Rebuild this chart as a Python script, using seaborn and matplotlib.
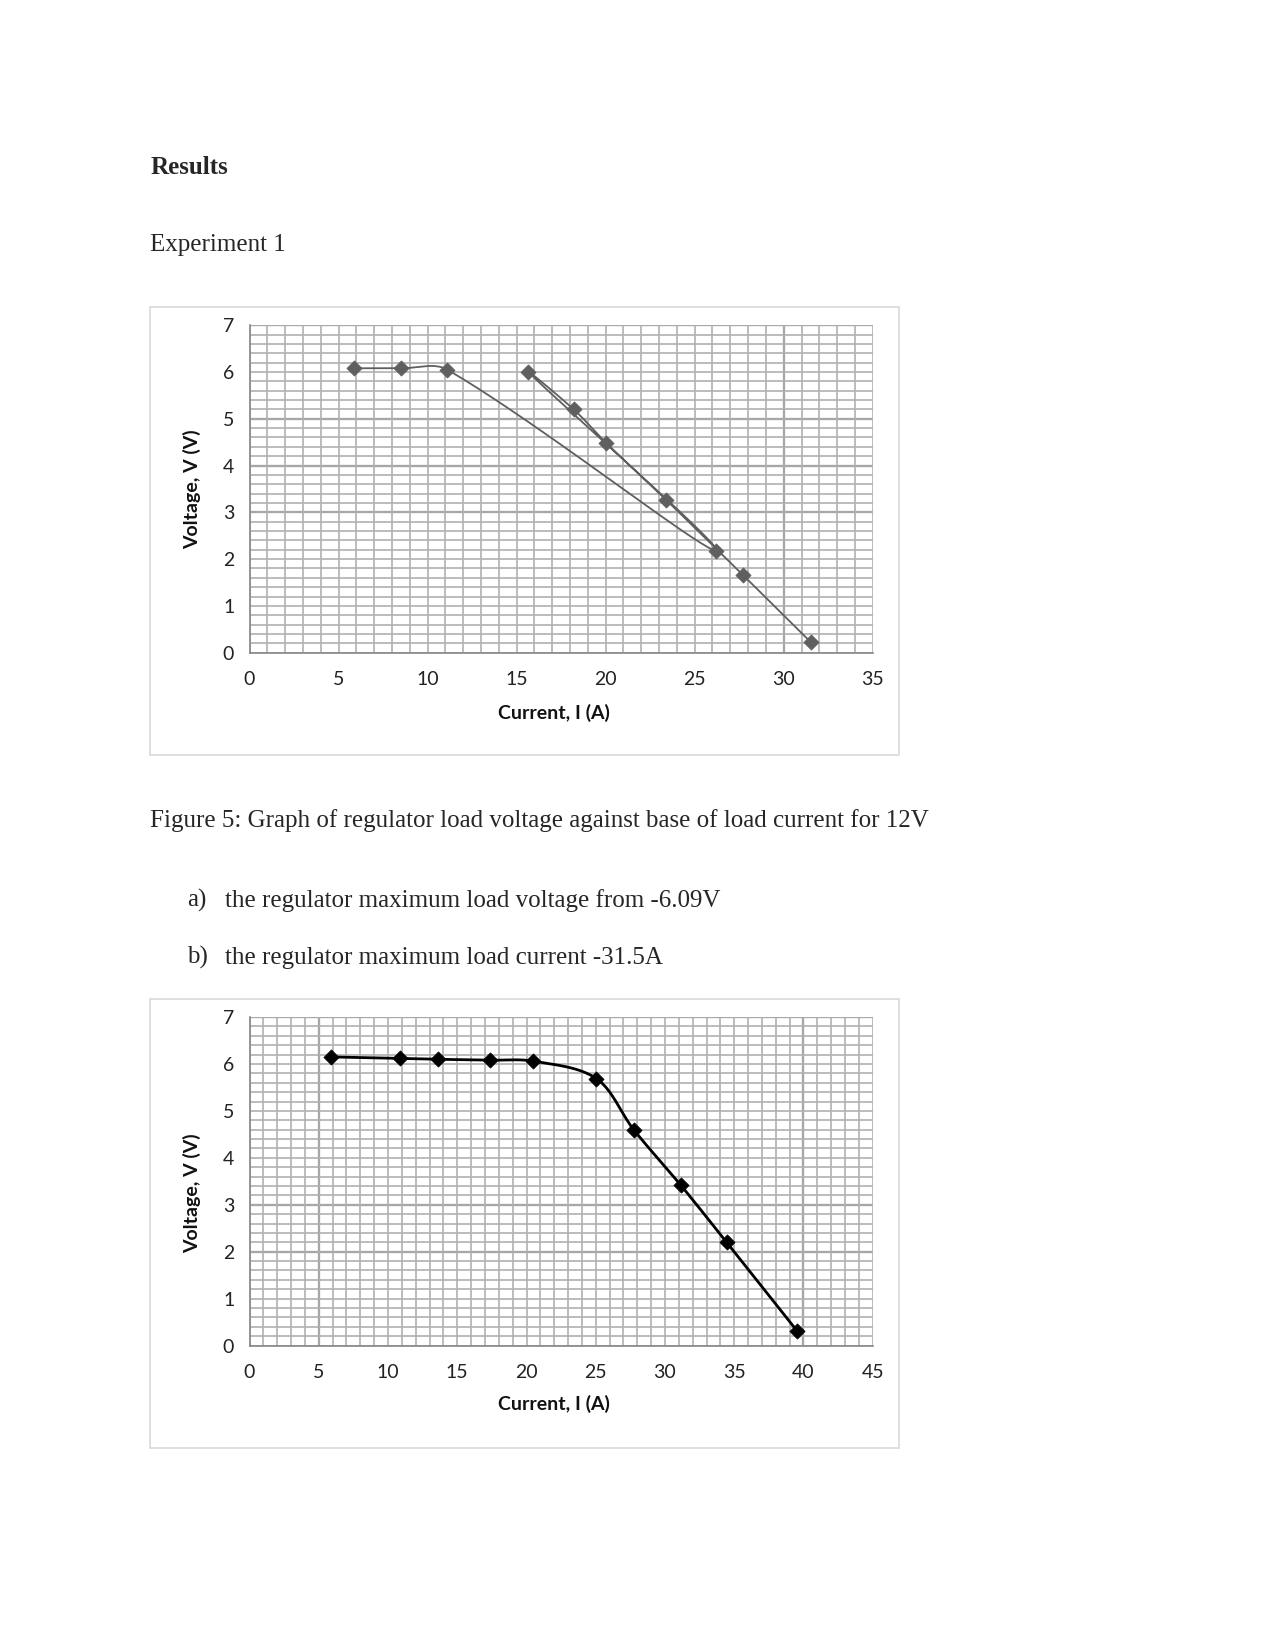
import numpy as np
import pandas as pd
import matplotlib
matplotlib.use("Agg")
import matplotlib.pyplot as plt
import seaborn as sns
from matplotlib.patches import Rectangle

# ---------------- data ----------------
# Chart 1 (order as plotted by the original smoothed line)
current_1 = [5.84, 8.50, 11.11, 26.20, 15.66, 18.21, 20.04, 23.41, 27.71, 31.53]
voltage_1 = [6.08, 6.08, 6.05, 2.18, 6.00, 5.20, 4.48, 3.26, 1.66, 0.22]

# Chart 2
current_2 = [5.85, 10.83, 13.60, 17.33, 20.50, 25.04, 27.74, 31.13, 34.45, 39.54]
voltage_2 = [6.15, 6.12, 6.10, 6.08, 6.06, 5.69, 4.60, 3.42, 2.20, 0.31]

x_ticks_1 = [0, 5, 10, 15, 20, 25, 30, 35]
x_ticks_2 = [0, 5, 10, 15, 20, 25, 30, 35, 40, 45]
y_ticks = [0, 1, 2, 3, 4, 5, 6, 7]

title_results = "Results"
title_exp = "Experiment 1"
caption = "Figure 5: Graph of regulator load voltage against base of load current for 12V"
item_a = "the regulator maximum load voltage from -6.09V"
item_b = "the regulator maximum load current -31.5A"
xlabel = "Current, I (A)"
ylabel = "Voltage, V (V)"

# ---------------- style ----------------
sns.set_style("white")
plt.rcParams["font.family"] = ["Lato", "DejaVu Sans"]

W, H = 1275, 1651
fig = plt.figure(figsize=(W / 100, H / 100), dpi=100)


def excel_smooth(xs, ys, sx, sy, n=40):
    """Excel-like Bezier smoothing computed in pixel space."""
    P = np.column_stack([np.asarray(xs, float) * sx, np.asarray(ys, float) * sy])
    m = len(P)
    c_out = np.zeros_like(P)
    c_in = np.zeros_like(P)
    for i in range(m):
        if i == 0:
            c_out[i] = P[i] + (P[i + 1] - P[i]) / 3
            continue
        if i == m - 1:
            c_in[i] = P[i] - (P[i] - P[i - 1]) / 3
            continue
        T = P[i + 1] - P[i - 1]
        dp = np.linalg.norm(P[i] - P[i - 1])
        dn = np.linalg.norm(P[i + 1] - P[i])
        s = dp + dn
        c_out[i] = P[i] + T * (dn / s) / 3
        c_in[i] = P[i] - T * (dp / s) / 3
    t = np.linspace(0, 1, n)[:, None]
    pts = []
    for i in range(m - 1):
        p0, p1, p2, p3 = P[i], c_out[i], c_in[i + 1], P[i + 1]
        seg = ((1 - t) ** 3) * p0 + 3 * ((1 - t) ** 2) * t * p1 + 3 * (1 - t) * t ** 2 * p2 + t ** 3 * p3
        pts.append(seg if i == 0 else seg[1:])
    pts = np.vstack(pts)
    return pts[:, 0] / sx, pts[:, 1] / sy


def draw_chart(rect, box, xs, ys, xticks, color, lw, dark_x, dark_y):
    fig.patches.append(Rectangle((box[0], box[1]), box[2], box[3], transform=fig.transFigure,
                                 fill=False, edgecolor="#d9d9d9", linewidth=1.2, zorder=0))
    ax = fig.add_axes(rect)
    xmax = xticks[-1]
    ax.set_xlim(0, xmax)
    ax.set_ylim(0, 7)
    # grid
    ax.set_xticks(xticks)
    ax.set_yticks(y_ticks)
    ax.set_xticks(np.arange(0, xmax + 1, 1), minor=True)
    ax.set_yticks(np.arange(0, 7.01, 0.2), minor=True)
    ax.grid(which="both", color="#b0b0b0", linewidth=1.2, zorder=0)
    for v in dark_x:
        ax.axvline(v, color="#808080", linewidth=1.6, zorder=0.5)
    for v in dark_y:
        ax.axhline(v, color="#808080", linewidth=1.6, zorder=0.5)
    ax.set_axisbelow(True)
    for sp in ["top", "right"]:
        ax.spines[sp].set_visible(False)
    for sp in ["left", "bottom"]:
        ax.spines[sp].set_color("#868686")
        ax.spines[sp].set_linewidth(1.2)
    ax.tick_params(axis="both", which="major", direction="out", length=6, width=1.2,
                   color="#868686", labelsize=14, labelcolor="#222222")
    ax.tick_params(axis="y", which="major", pad=5)
    ax.tick_params(axis="x", which="major", pad=7)
    ax.tick_params(which="minor", length=0)

    # plot in pixel aspect
    bb = ax.get_position()
    sx = bb.width * W / xmax
    sy = bb.height * H / 7
    cx, cy = excel_smooth(xs, ys, sx, sy)
    df_line = pd.DataFrame({"I": cx, "V": cy})
    sns.lineplot(data=df_line, x="I", y="V", sort=False, estimator=None, color=color,
                 linewidth=lw, ax=ax, zorder=3)
    df_pts = pd.DataFrame({"I": xs, "V": ys})
    sns.scatterplot(data=df_pts, x="I", y="V", marker="D", s=60, color=color,
                    edgecolor=color, linewidth=0.5, ax=ax, zorder=4)
    ax.set_xlabel("")
    ax.set_ylabel("")
    return ax


# chart 1
ax1 = draw_chart([0.1957, 0.6047, 0.4888, 0.1983], (0.118, 0.5427, 0.587, 0.2711),
                 current_1, voltage_1, x_ticks_1, "#5f5f5f", 1.3, [30], [3, 4, 5, 7])
# chart 2
ax2 = draw_chart([0.1957, 0.1850, 0.4888, 0.1990], (0.118, 0.1232, 0.587, 0.2717),
                 current_2, voltage_2, x_ticks_2, "#000000", 2.0, [5, 40], [2, 3, 7])

# axis titles
for yc_lab, xc_y in [(0.7035, 0.5683), (0.2774, 0.1494)]:
    fig.text(0.151, yc_lab, ylabel, rotation=90, ha="center", va="center",
             fontsize=14, fontweight="bold", family=["Lato", "DejaVu Sans"], color="#111111")
    fig.text(0.4344, xc_y, xlabel, ha="center", va="center",
             fontsize=14, fontweight="bold", family=["Lato", "DejaVu Sans"], color="#111111")

serif = ["Liberation Serif", "DejaVu Serif"]
fs = 18
fig.text(0.118, 0.8985, title_results, ha="left", va="center", fontsize=fs,
         fontweight="bold", family=serif)
fig.text(0.118, 0.8515, title_exp, ha="left", va="center", fontsize=fs, family=serif)
fig.text(0.118, 0.5030, caption, ha="left", va="center", fontsize=fs, family=serif)
fig.text(0.147, 0.4545, "a)", ha="left", va="center", fontsize=fs, family=serif)
fig.text(0.1767, 0.4545, item_a, ha="left", va="center", fontsize=fs, family=serif)
fig.text(0.147, 0.4200, "b)", ha="left", va="center", fontsize=fs, family=serif)
fig.text(0.1767, 0.4200, item_b, ha="left", va="center", fontsize=fs, family=serif)

fig.savefig("out.png", dpi=100, facecolor="white")
